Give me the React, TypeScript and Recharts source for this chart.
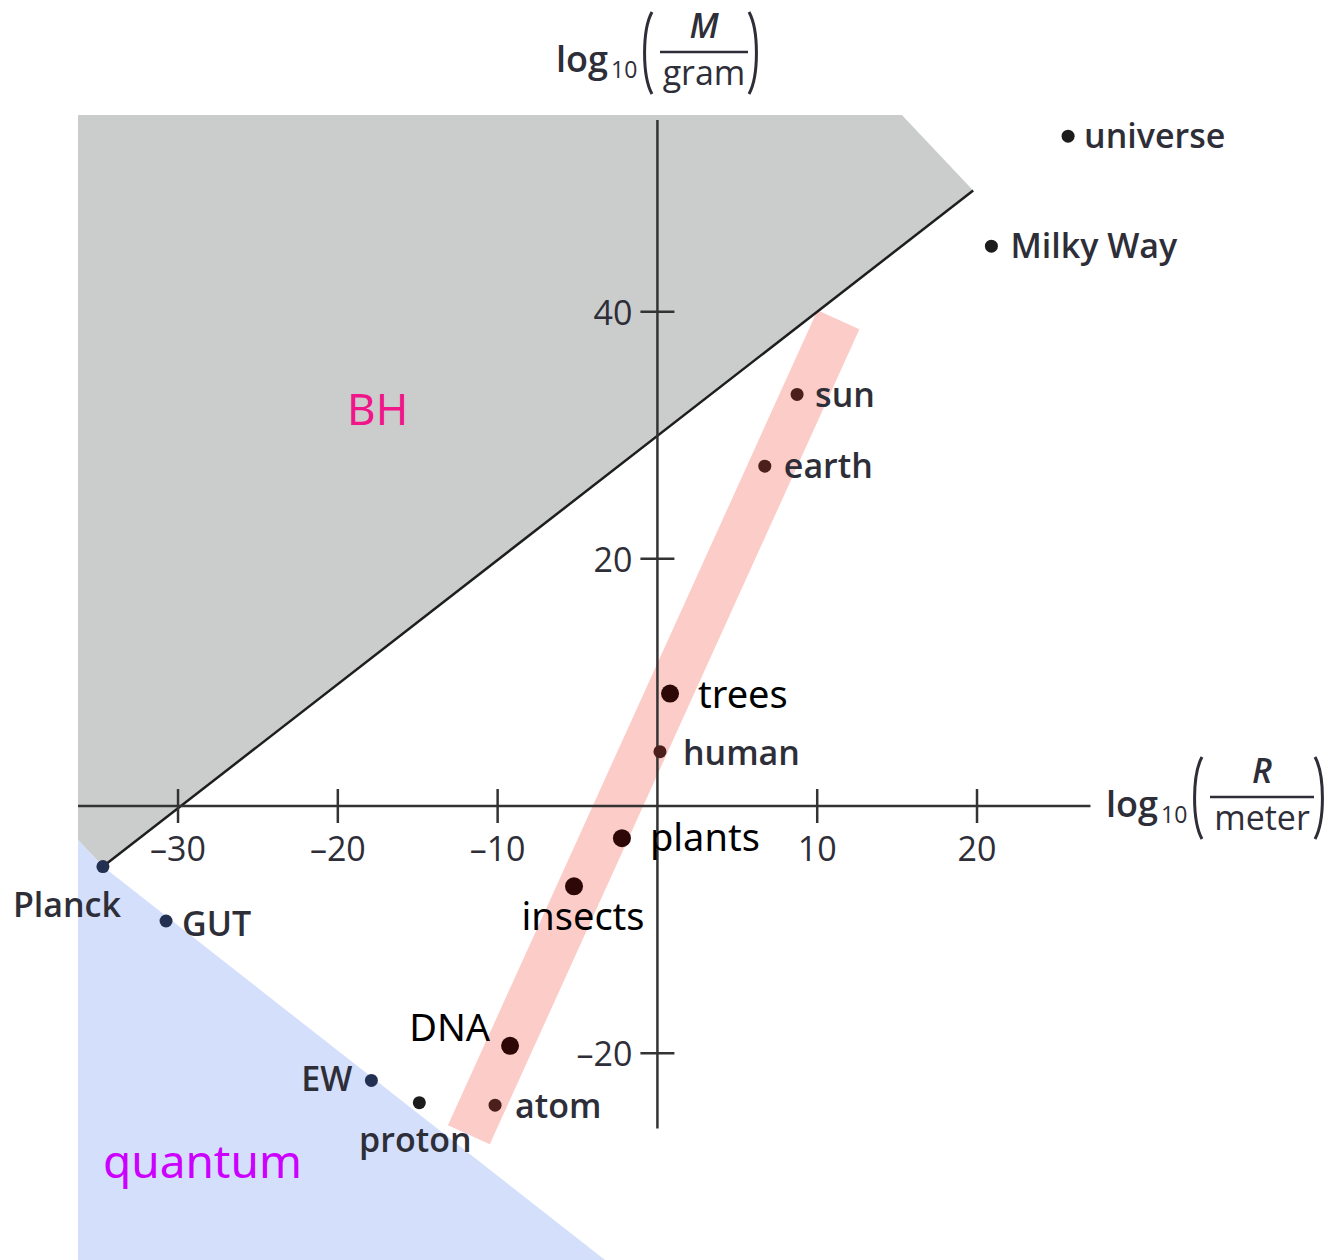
import {
  ComposedChart,
  XAxis,
  YAxis,
  Area,
  Line,
  Scatter,
  ReferenceLine,
  ReferenceDot,
  Customized,
} from "recharts";

// log10(R / meter) and log10(M / gram) for each object
const objectNames = ["universe", "Milky Way", "sun", "earth", "human", "atom", "proton", "EW", "GUT", "Planck"];
const objectR = [25.7, 20.9, 8.74, 6.72, 0.16, -10.16, -14.9, -17.9, -30.75, -34.7];
const objectM = [54.2, 45.3, 33.3, 27.5, 4.4, -24.2, -24.0, -22.2, -9.3, -4.9];

// objects added on top of the figure
const extraNames = ["trees", "plants", "insects", "DNA"];
const extraR = [0.79, -2.22, -5.22, -9.22];
const extraM = [9.1, -2.6, -6.5, -19.4];

// black hole boundary, Planck point to upper end
const bhLineR = [-34.7, 19.76];
const bhLineM = [-4.9, 49.8];

// grey (black hole) region outline: lower / upper edge at each R
const bhRegionR = [-36.26, -34.7, 15.3, 19.76];
const bhRegionLow = [-2.75, -4.9, 45.3, 49.8];
const bhRegionHigh = [55.91, 55.91, 55.91, 49.8];

// blue (quantum) region outline
const qRegionR = [-36.26, -34.7, -3.28];
const qRegionLow = [-36.73, -36.73, -36.73];
const qRegionHigh = [-2.75, -4.9, -36.73];

// pink band ends
const bandR = [-11.8, 11.33];
const bandM = [-26.6, 39.35];

const xTicks = [-30, -20, -10, 10, 20];
const yTicks = [40, 20, -20];

const X_DOMAIN: [number, number] = [-36.26, 42.09];
const Y_DOMAIN: [number, number] = [-36.73, 55.91];

const objects = objectNames.map((name, i) => ({ name, x: objectR[i], y: objectM[i] }));
const extras = extraNames.map((name, i) => ({ name, x: extraR[i], y: extraM[i] }));
const bhLine = bhLineR.map((x, i) => ({ x, y: bhLineM[i] }));
const bhRegion = bhRegionR.map((x, i) => ({ x, range: [bhRegionLow[i], bhRegionHigh[i]] }));
const qRegion = qRegionR.map((x, i) => ({ x, range: [qRegionLow[i], qRegionHigh[i]] }));
const band = bandR.map((x, i) => ({ x, y: bandM[i] }));

const BOOK_FONT = "'Open Sans', sans-serif";
const NOTE_FONT = "'Noto Sans', sans-serif";
const INK = "#2e2e38";

// label placement around each dot: dx, dy (to baseline), anchor
const labelPos: Record<string, [number, number, "start" | "middle" | "end"]> = {
  universe: [16, 12, "start"],
  "Milky Way": [19, 12, "start"],
  sun: [18, 13, "start"],
  earth: [19, 12, "start"],
  human: [23, 13, "start"],
  atom: [20, 13, "start"],
  proton: [-4, 49, "middle"],
  EW: [-19, 11, "end"],
  GUT: [16, 15, "start"],
  Planck: [-36, 50, "middle"],
  trees: [28, 14, "start"],
  plants: [28, 13, "start"],
  insects: [9, 44, "middle"],
  DNA: [-20, -5, "end"],
};

const dotColor: Record<string, string> = {
  Planck: "#243052",
  GUT: "#243052",
  EW: "#243052",
  sun: "#4a1f1c",
  earth: "#4a1f1c",
  human: "#4a1f1c",
  atom: "#4a1f1c",
};

const BookDot = (props: any) => {
  const { cx, cy, payload } = props;
  const [dx, dy, anchor] = labelPos[payload.name];
  return (
    <g>
      <circle cx={cx} cy={cy} r={6.5} fill={dotColor[payload.name] || "#1c1c1c"} />
      <text x={cx + dx} y={cy + dy} textAnchor={anchor} fontFamily={BOOK_FONT} fontWeight={600} fontSize={34} fill={INK}>
        {payload.name}
      </text>
    </g>
  );
};

const NoteDot = (props: any) => {
  const { cx, cy, payload } = props;
  const [dx, dy, anchor] = labelPos[payload.name];
  return (
    <g>
      <circle cx={cx} cy={cy} r={9} fill="#2e0806" />
      <text x={cx + dx} y={cy + dy} textAnchor={anchor} fontFamily={NOTE_FONT} fontSize={38} fill="#000">
        {payload.name}
      </text>
    </g>
  );
};

const XTick = (value: number) => (props: any) => {
  const { cx, cy } = props;
  return (
    <g>
      <line x1={cx} x2={cx} y1={cy - 17} y2={cy + 17} stroke="#333" strokeWidth={2.5} />
      <text x={cx} y={cy + 55} textAnchor="middle" fontFamily={BOOK_FONT} fontWeight={500} fontSize={34} fill={INK}>
        {value < 0 ? `\u2013${-value}` : value}
      </text>
    </g>
  );
};

const YTick = (value: number) => (props: any) => {
  const { cx, cy } = props;
  return (
    <g>
      <line x1={cx - 17} x2={cx + 17} y1={cy} y2={cy} stroke="#333" strokeWidth={2.5} />
      <text x={cx - 25} y={cy + 13} textAnchor="end" fontFamily={BOOK_FONT} fontWeight={500} fontSize={34} fill={INK}>
        {value < 0 ? `\u2013${-value}` : value}
      </text>
    </g>
  );
};

// thin tall bracket drawn as a curve; dir 1 is "(", -1 is ")"
const Bracket = ({ x, top, bottom, dir }: { x: number; top: number; bottom: number; dir: 1 | -1 }) => {
  const bow = 9 * dir;
  return (
    <path
      d={`M${x + bow},${top} C${x - bow * 0.1},${top + 18} ${x - bow * 0.1},${bottom - 18} ${x + bow},${bottom}`}
      fill="none"
      stroke={INK}
      strokeWidth={3}
    />
  );
};

// log10( num / den ) written as a fraction in brackets
const LogFraction = ({ x, y, num, den, width }: { x: number; y: number; num: string; den: string; width: number }) => {
  const fx = x + 104;
  const mid = fx + width / 2;
  return (
    <g fontFamily={BOOK_FONT} fill={INK}>
      <text x={x} y={y} fontSize={36} fontWeight={600}>log</text>
      <text x={x + 55} y={y + 6} fontSize={23} fontWeight={500}>10</text>
      <Bracket x={x + 87} top={y - 60} bottom={y + 22} dir={1} />
      <text x={mid} y={y - 34} textAnchor="middle" fontSize={34} fontStyle="italic" fontWeight={600}>{num}</text>
      <line x1={fx} x2={fx + width} y1={y - 20} y2={y - 20} stroke={INK} strokeWidth={2.5} />
      <text x={mid} y={y + 13} textAnchor="middle" fontSize={34} fontWeight={500}>{den}</text>
      <Bracket x={fx + width + 10} top={y - 60} bottom={y + 22} dir={-1} />
    </g>
  );
};

const AxisTitles = () => (
  <g>
    <LogFraction x={556} y={72} num="M" den="gram" width={88} />
    <LogFraction x={1106} y={817} num="R" den="meter" width={104} />
  </g>
);

export default function App() {
  return (
    <div style={{ position: "absolute", left: 0, top: 0, width: 1330, height: 1260, background: "#fff" }}>
      <ComposedChart width={1330} height={1260} margin={{ top: 115, right: 0, bottom: 0, left: 78 }}>
        <XAxis type="number" dataKey="x" domain={X_DOMAIN} hide />
        <YAxis type="number" dataKey="y" domain={Y_DOMAIN} hide />

        <Area data={bhRegion} dataKey="range" type="linear" fill="#cbcdcd" fillOpacity={1} stroke="none" isAnimationActive={false} />
        <Area data={qRegion} dataKey="range" type="linear" fill="#d4dffb" fillOpacity={1} stroke="none" isAnimationActive={false} />

        <Line data={band} dataKey="y" type="linear" stroke="#fccdc8" strokeWidth={46} dot={false} activeDot={false} isAnimationActive={false} />
        <Line data={bhLine} dataKey="y" type="linear" stroke="#1e1e1e" strokeWidth={2.5} dot={false} activeDot={false} isAnimationActive={false} />

        <ReferenceLine segment={[{ x: X_DOMAIN[0], y: 0 }, { x: 27.1, y: 0 }]} stroke="#333" strokeWidth={2.5} />
        <ReferenceLine segment={[{ x: 0, y: 55.5 }, { x: 0, y: -26.1 }]} stroke="#333" strokeWidth={2.5} />

        {xTicks.map((t) => (
          <ReferenceDot key={`x${t}`} x={t} y={0} r={0} shape={XTick(t)} />
        ))}
        {yTicks.map((t) => (
          <ReferenceDot key={`y${t}`} x={0} y={t} r={0} shape={YTick(t)} />
        ))}

        <Scatter data={objects} dataKey="y" shape={BookDot} isAnimationActive={false} />
        <Scatter data={extras} dataKey="y" shape={NoteDot} isAnimationActive={false} />

        <ReferenceDot
          x={-19.42}
          y={30.8}
          r={0}
          shape={(p: any) => (
            <text x={p.cx} y={p.cy} fontFamily={NOTE_FONT} fontSize={44} fill="#f0168a">BH</text>
          )}
        />
        <ReferenceDot
          x={-34.7}
          y={-30.1}
          r={0}
          shape={(p: any) => (
            <text x={p.cx} y={p.cy} fontFamily={NOTE_FONT} fontSize={46} fill="#cc00ff">quantum</text>
          )}
        />

        <Customized component={<AxisTitles />} />
      </ComposedChart>
    </div>
  );
}
